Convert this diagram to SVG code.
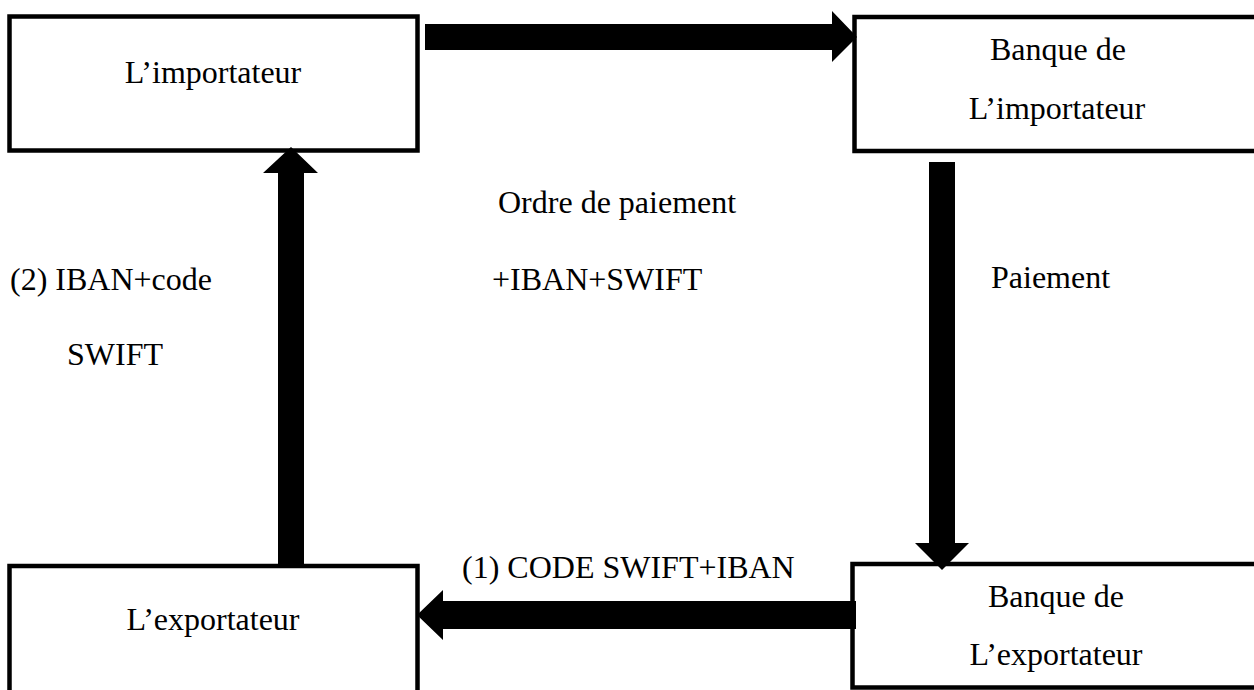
<svg xmlns="http://www.w3.org/2000/svg" width="1254" height="690" viewBox="0 0 1254 690">
  <style>
    .box { fill: #ffffff; stroke: #000000; stroke-width: 4.5; }
    .arrow { fill: #000000; stroke: none; }
    text { font-family: "Liberation Serif", "Times New Roman", serif; font-size: 32px; fill: #000000; }
    .c { text-anchor: middle; }
  </style>
  <rect width="1254" height="690" fill="#ffffff"/>

  <g id="importateur">
    <rect class="box" x="9.5" y="16.5" width="408" height="134"/>
    <text class="c" x="213" y="83">L’importateur</text>
  </g>

  <g id="banque-importateur">
    <rect class="box" x="854.5" y="17" width="420" height="134"/>
    <text class="c" x="1058" y="60">Banque de</text>
    <text class="c" x="1057" y="119">L’importateur</text>
  </g>

  <g id="exportateur">
    <rect class="box" x="9.5" y="566" width="408" height="150"/>
    <text class="c" x="213" y="630">L’exportateur</text>
  </g>

  <g id="banque-exportateur">
    <rect class="box" x="852.5" y="564" width="420" height="123.5"/>
    <text class="c" x="1056" y="607">Banque de</text>
    <text class="c" x="1056" y="665">L’exportateur</text>
  </g>

  <g id="connectors">
    <!-- importer -> importer's bank -->
    <polygon class="arrow" points="425,24 832,24 832,11 857,37 832,62 832,50 425,50"/>
    <!-- importer's bank -> exporter's bank -->
    <polygon class="arrow" points="929,162 955,162 955,543 969,543 942,570 915,543 929,543"/>
    <!-- exporter's bank -> exporter -->
    <polygon class="arrow" points="856,601 856,629 443,629 443,640 417,615 443,590 443,601"/>
    <!-- exporter -> importer -->
    <polygon class="arrow" points="278,564 304,564 304,173 318,173 291,147 263,173 278,173"/>
  </g>

  <g id="labels">
    <text x="498" y="213">Ordre de paiement</text>
    <text x="492" y="290">+IBAN+SWIFT</text>
    <text x="10" y="290">(2) IBAN+code</text>
    <text x="67" y="365">SWIFT</text>
    <text x="991" y="288">Paiement</text>
    <text x="462" y="578">(1) CODE SWIFT+IBAN</text>
  </g>
</svg>
